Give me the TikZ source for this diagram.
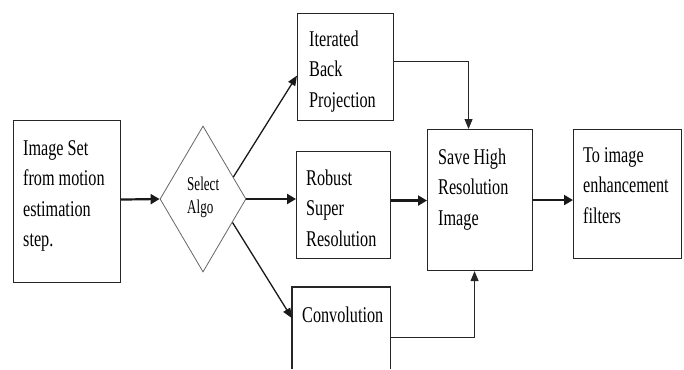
\documentclass[tikz,border=0pt]{standalone}
\usepackage{fontspec}
\setmainfont{Liberation Serif}[FakeStretch=0.72]
\newfontfamily\dfont{Liberation Serif}[FakeStretch=0.67]
\usetikzlibrary{shapes.geometric,arrows.meta,calc}
\begin{document}
\begin{tikzpicture}[x=1pt,y=-1pt,
  box/.style={draw=black!85, line width=1.1pt, inner sep=0pt, anchor=north west},
  openbox/.style={inner sep=0pt, anchor=north west},
  boxline/.style={draw=black!85, line width=1.1pt},
  txt/.style={inner sep=0pt, anchor=base west, text=black, font=\fontsize{22.5}{30.5}\selectfont},
  dtxt/.style={inner sep=0pt, anchor=base west, text=black, font=\dfont\fontsize{19.5}{23}\selectfont},
  decision/.style={diamond, draw=black!60, line width=0.8pt, inner sep=0pt},
  thickarrow/.style={draw=black!90, line width=2.2pt, -{Triangle[length=9pt,width=10pt]}},
  diagarrow/.style={draw=black!90, line width=1.3pt, -{Triangle[length=10pt,width=8pt]}},
  thinarrow/.style={draw=black!85, line width=1pt, -{Triangle[length=10pt,width=8pt]}}]
\useasboundingbox (0,0) rectangle (684,369);

% boxes
\node[box, minimum width=107pt, minimum height=162pt] (img) at (13,120) {};
\node[txt] (imgt) at (23,155) {\parbox[t]{100pt}{Image Set\\from motion\\estimation\\step.}};

\node[decision, minimum width=86pt, minimum height=146pt] (sel) at (203,199) {};
\node[dtxt] (selt) at (187,190) {\parbox[t]{40pt}{Select\\Algo}};

\node[box, minimum width=96pt, minimum height=107pt] (iter) at (297,13) {};
\node[txt] (itert) at (309,46) {\parbox[t]{90pt}{Iterated\\Back\\Projection}};

\node[box, minimum width=94pt, minimum height=107pt] (rob) at (296,151) {};
\node[txt] (robt) at (306,185) {\parbox[t]{90pt}{Robust\\Super\\Resolution}};

\node[openbox, minimum width=98pt, minimum height=82pt] (conv) at (292,287) {};
\draw[boxline] (conv.south west) -- (conv.north west) -- (conv.north east) -- (conv.south east);
\node[txt] (convt) at (302,322) {\parbox[t]{90pt}{Convolution}};

\node[box, minimum width=105pt, minimum height=141pt] (save) at (427,129) {};
\node[txt] (savet) at (438,164) {\parbox[t]{95pt}{Save High\\Resolution\\Image}};

\node[box, minimum width=108pt, minimum height=129pt] (to) at (573,129) {};
\node[txt] (tot) at (583,162) {\parbox[t]{100pt}{To image\\enhancement\\filters}};

% connectors
\draw[thickarrow] ([yshift=2pt]img.east) -- (sel.west);
\draw[diagarrow] ($(sel.north)!0.7!(sel.east)$) -- ([yshift=-8.5pt]iter.west);
\draw[thickarrow] (sel.east) -- (sel.east -| rob.west);
\draw[diagarrow] ($(sel.south)!0.68!(sel.east)$) -- ([yshift=10pt]conv.west);
\draw[thinarrow] ([yshift=5.5pt]iter.east) -| ([xshift=-11.5pt]save.north);
\draw[thickarrow] ([yshift=4.5pt]rob.east) -- ([yshift=4.5pt]rob.east -| save.west);
\draw[thinarrow] ([yshift=-9pt]conv.east) -| ([xshift=-5.5pt]save.south);
\draw[thickarrow] (save.east) -- (save.east -| to.west);
\end{tikzpicture}
\end{document}
